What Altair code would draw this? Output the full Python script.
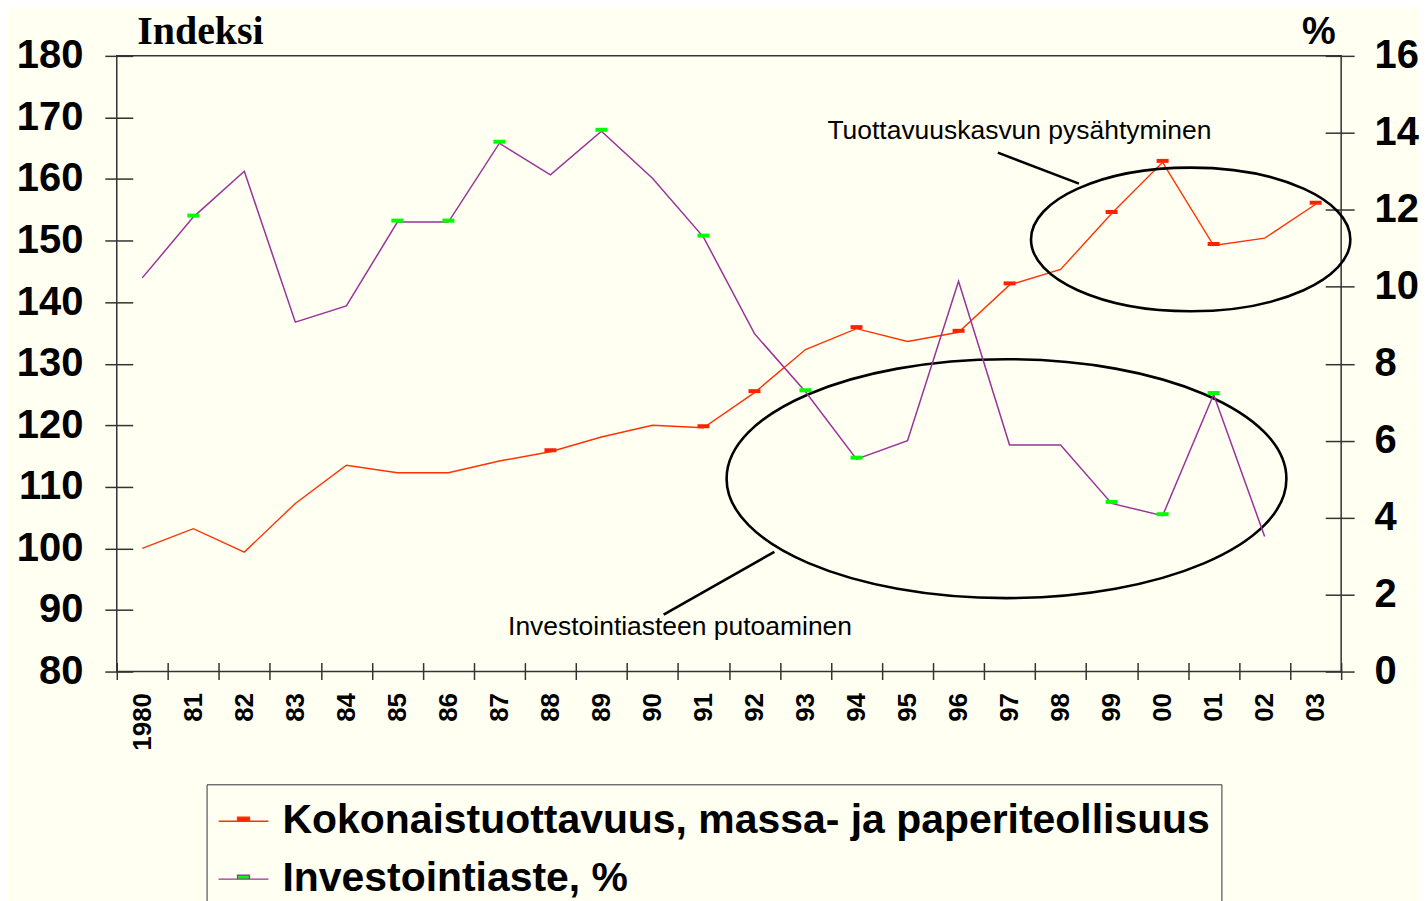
import altair as alt
import pandas as pd

# ---------------- data ----------------
YEARS = list(range(1980, 2004))
YEAR_LABELS = ["1980", "81", "82", "83", "84", "85", "86", "87", "88", "89", "90", "91",
               "92", "93", "94", "95", "96", "97", "98", "99", "00", "01", "02", "03"]
PRODUCTIVITY = [100.0, 103.2, 99.4, 107.3, 113.5, 112.3, 112.3, 114.2, 115.7, 118.1, 120.0, 119.6,
                125.3, 132.3, 135.7, 133.6, 135.1, 142.8, 145.3, 154.4, 162.7, 149.2, 150.4, 155.9]
INVESTMENT = [10.23, 11.81, 13.0, 9.08, 9.5, 11.68, 11.68, 13.73, 12.91, 14.04, 12.82, 11.29,
              8.78, 7.27, 5.52, 6.0, 10.14, 5.89, 5.89, 4.37, 4.05, 7.2, 3.51]
PROD_MARKED = [1988, 1991, 1992, 1994, 1996, 1997, 1999, 2000, 2001, 2003]
INV_MARKED = [1981, 1985, 1986, 1987, 1989, 1991, 1993, 1994, 1999, 2000, 2001]
SERIES = ["Kokonaistuottavuus, massa- ja paperiteollisuus", "Investointiaste, %"]
LEFT_TICKS = list(range(80, 181, 10))
RIGHT_TICKS = list(range(0, 17, 2))
NOTE_TOP = "Tuottavuuskasvun pysähtyminen"
NOTE_BOTTOM = "Investointiasteen putoaminen"

# ---------------- styles ----------------
BG = "#FFFFF2"
RED = "#FF3300"
PURPLE = "#993399"
RED_MARK = "#FF2200"
GREEN = "#00FF00"
AX = "#333333"
SANS = "Liberation Sans"
SERIF = "Liberation Serif"

prod_df = pd.DataFrame({"year": YEARS, "value": PRODUCTIVITY, "series": SERIES[0]})
inv_df = pd.DataFrame({"year": YEARS[:len(INVESTMENT)], "value": INVESTMENT, "series": SERIES[1]})
prod_mark_df = prod_df[prod_df["year"].isin(PROD_MARKED)]
inv_mark_df = inv_df[inv_df["year"].isin(INV_MARKED)]
one = pd.DataFrame({"k": [0]})

x_scale = alt.Scale(domain=[YEARS[0] - 0.5, YEARS[-1] + 0.5], nice=False, zero=False)
yl_scale = alt.Scale(domain=[LEFT_TICKS[0], LEFT_TICKS[-1]], nice=False, zero=False)
yr_scale = alt.Scale(domain=[RIGHT_TICKS[0], RIGHT_TICKS[-1]], nice=False, zero=False)
stroke_scale = alt.Scale(domain=SERIES, range=[RED, PURPLE])
fill_scale = alt.Scale(domain=SERIES, range=[RED_MARK, GREEN])

LEG_PATH = "M-1,0H1M-0.24,-0.16H0.24V0H-0.24Z"
legend = alt.Legend(
    orient="none", legendX=90, legendY=730, title=None, direction="vertical",
    symbolType=LEG_PATH, symbolSize=2500, symbolStrokeWidth=1.3, symbolOpacity=1,
    labelFont=SANS, labelFontWeight="bold", labelFontSize=41, labelColor="black",
    labelOffset=13, labelLimit=0, rowPadding=12, padding=11,
    strokeColor=AX, fillColor=BG,
)

tick_axis = alt.Axis(
    orient="bottom",
    values=[y - 0.5 for y in YEARS] + [YEARS[-1] + 0.5], labels=False, domain=False,
    ticks=True, tickSize=17, tickWidth=1.5, tickColor=AX, offset=-9, grid=False, title=None,
)
label_axis = alt.Axis(
    orient="bottom",
    values=YEARS, labelExpr=f"{YEAR_LABELS}[datum.value - {YEARS[0]}]",
    ticks=False, tickSize=0, domain=False, grid=False, title=None,
    labelAngle=-90, labelAlign="right", labelBaseline="middle",
    labelFont=SANS, labelFontWeight="bold", labelFontSize=26, labelColor="black",
    labelPadding=21, labelOverlap=False, labelFlush=False, labelBound=False,
)
left_axis = alt.Axis(
    values=LEFT_TICKS, orient="left", offset=-16, tickSize=28, tickWidth=1.5, tickColor=AX,
    domain=False, grid=False, labelFont=SANS, labelFontWeight="bold", labelFontSize=40,
    labelColor="black", labelPadding=22, labelFlush=False, labelOverlap=False,
    title="Indeksi", titleFont=SERIF, titleFontWeight="bold", titleFontSize=40,
    titleColor="black", titleAngle=0, titleAlign="left", titleBaseline="alphabetic",
    titleX=4, titleY=-12,
)
right_axis = alt.Axis(
    values=RIGHT_TICKS, orient="right", offset=-16, tickSize=29, tickWidth=1.5, tickColor=AX,
    domain=False, grid=False, labelFont=SANS, labelFontWeight="bold", labelFontSize=40,
    labelColor="black", labelPadding=20, labelFlush=False, labelOverlap=False,
    title="%", titleFont=SANS, titleFontWeight="bold", titleFontSize=38,
    titleColor="black", titleAngle=0, titleAlign="right", titleBaseline="alphabetic",
    titleX=10, titleY=-12,
)

# ---------------- left (index) group ----------------
XL = dict(scale=x_scale, axis=tick_axis)
YL = dict(scale=yl_scale, axis=left_axis)

red_line = alt.Chart(prod_df).mark_line(strokeWidth=1.4).encode(
    x=alt.X("year:Q", **XL),
    y=alt.Y("value:Q", **YL),
    stroke=alt.Stroke("series:N", scale=stroke_scale, legend=legend),
)
red_marks = alt.Chart(prod_mark_df).mark_tick(
    orient="horizontal", size=12, thickness=4, opacity=1, yOffset=-1.5
).encode(
    x=alt.X("year:Q", **XL),
    y=alt.Y("value:Q", **YL),
    fill=alt.Fill("series:N", scale=fill_scale, legend=legend),
)


def ellipse_path(ratio):
    k = 0.5523
    b = ratio
    return (f"M1,0C1,{b*k:.4f} {k},{b:.4f} 0,{b:.4f}"
            f"C{-k},{b:.4f} -1,{b*k:.4f} -1,0"
            f"C-1,{-b*k:.4f} {-k},{-b:.4f} 0,{-b:.4f}"
            f"C{k},{-b:.4f} 1,{-b*k:.4f} 1,0Z")


def ellipse(cx, cy, width, ratio):
    return alt.Chart(one).mark_point(
        shape=ellipse_path(ratio), size=width * width, filled=False,
        stroke="black", strokeWidth=2.6, opacity=1,
    ).encode(
        x=alt.XDatum(cx, **XL),
        y=alt.YDatum(cy, **YL),
    )


def pointer(x1, y1, x2, y2):
    return alt.Chart(one).mark_rule(stroke="black", strokeWidth=2.6).encode(
        x=alt.XDatum(x1, **XL),
        y=alt.YDatum(y1, **YL),
        x2=alt.datum(x2), y2=alt.datum(y2),
    )


def note(x, y, txt):
    return alt.Chart(one).mark_text(
        text=txt, align="left", baseline="alphabetic", font=SANS, fontSize=26.5, color="black"
    ).encode(
        x=alt.XDatum(x, **XL),
        y=alt.YDatum(y, **YL),
    )


e1 = ellipse(2000.55, 150.18, 320, 0.45)
e2 = ellipse(1996.94, 111.33, 561, 0.4267)
p1 = pointer(1996.77, 164.28, 1998.36, 159.25)
p2 = pointer(1990.22, 89.24, 1992.39, 99.45)
t1 = note(1993.43, 166.55, NOTE_TOP)
t2 = note(1987.17, 86.0, NOTE_BOTTOM)

left = alt.layer(red_line, red_marks, e1, e2, p1, p2, t1, t2)

# ---------------- right (%) group ----------------
XR = dict(scale=x_scale, axis=label_axis)
YR = dict(scale=yr_scale, axis=right_axis)

purple_line = alt.Chart(inv_df).mark_line(strokeWidth=1.5).encode(
    x=alt.X("year:Q", **XR),
    y=alt.Y("value:Q", **YR),
    stroke=alt.Stroke("series:N", scale=stroke_scale, legend=legend),
)
green_marks = alt.Chart(inv_mark_df).mark_tick(
    orient="horizontal", size=12, thickness=4, opacity=1, yOffset=-1.5
).encode(
    x=alt.X("year:Q", **XR),
    y=alt.Y("value:Q", **YR),
    fill=alt.Fill("series:N", scale=fill_scale, legend=legend),
)
right = alt.layer(purple_line, green_marks)

chart = (
    alt.layer(left, right)
    .resolve_scale(y="independent")
    .resolve_axis(x="independent")
    .properties(width=1227, height=617, padding={"left": 8, "top": 3, "right": 0, "bottom": 0})
    .configure(background=BG)
    .configure_view(stroke=AX, strokeWidth=1.5)
)

chart.save("out.html", embed_options={"renderer": "svg", "actions": False})
